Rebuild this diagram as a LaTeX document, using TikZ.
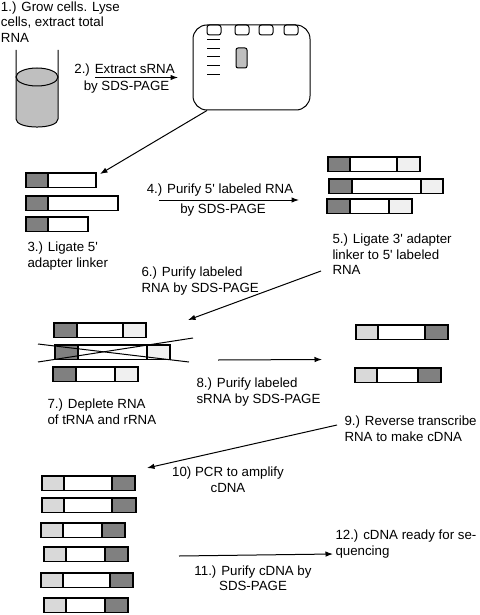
\documentclass[tikz,border=0pt]{standalone}
\usepackage{fontspec}
\setmainfont{Liberation Sans}[Ligatures=TeXOff]
\usepackage{xcolor}
\usepackage{tikz}
\usetikzlibrary{calc,arrows.meta}

\definecolor{segdark}{gray}{0.5}
\definecolor{segpale}{gray}{0.94}
\definecolor{seglight}{gray}{0.85}
\definecolor{liquid}{gray}{0.75}

\begin{document}
\begin{tikzpicture}[x=1pt,y=-1pt,line width=1pt,
    font=\fontsize{13.3}{15.5}\selectfont,
    steptext/.style={align=left,anchor=north west,inner sep=0pt},
    seg/.style={draw=black,line width=1.3pt},
    flow/.style={line width=1pt,-{Latex[length=7.5pt,width=5.5pt]}}]
\useasboundingbox (0,0) rectangle (479,615);

% beaker with total RNA
\fill[liquid] (16,77) -- (16,119) .. controls (16,129.7) and (58,129.7) .. (58,119) -- (58,77) -- cycle;
\filldraw[fill=liquid] (37,77) ellipse [x radius=21, y radius=9];
\draw (16,50) -- (16,119) .. controls (16,129.7) and (58,129.7) .. (58,119) -- (58,50);
\node[steptext] (grow) at (0.5,1) {1.) Grow cells. Lyse\\cells, extract total\\RNA};

% gel
\node[draw,rounded corners=14,minimum width=117,minimum height=85,inner sep=0] (gel) at (251.5,67.5) {};
\foreach \x in {207,235,259,284}
    \draw[rounded corners=2.5] (\x,25) rectangle (\x+14,35);
\foreach \y in {40,48.3,56.7,65.7,74.3}
    \draw (207,\y) -- (220,\y);
\filldraw[fill=liquid,rounded corners=2] (236,48) rectangle (247,68);

\coordinate (extA) at (95,77.5);
\coordinate (extB) at (178,77.5);
\draw[flow] (extA) -- (extB) node[midway,above,inner sep=1pt,xshift=-12]{2.) Extract sRNA} node[midway,below,inner sep=2.5pt,xshift=-10]{by SDS-PAGE};

\coordinate (ligIn) at (100,174);
\draw[flow] ($(gel.south)+(-44.5,0)$) -- (ligIn);

% 5' adapter ligated
\foreach \y/\e in {173/96,196/118,217/88}{
    \filldraw[seg,fill=segdark] (26,\y) rectangle (48,\y+14.5);
    \filldraw[seg,fill=white] (48,\y) rectangle (\e,\y+14.5);
}
\node[steptext] (ligfive) at (27,241.5) {3.) Ligate 5'\\adapter linker};

\coordinate (purA) at (159,200);
\coordinate (purB) at (299,200);
\draw[flow] (purA) -- (purB) node[midway,above,inner sep=3pt,xshift=-9]{4.) Purify 5' labeled RNA} node[midway,below,inner sep=3.5pt,xshift=-6]{by SDS-PAGE};

% 3' adapter ligated
\foreach \y/\a/\b/\c/\d in {157/328/350/397/420,179/329/352/421/443,199/327/350/389/412}{
    \filldraw[seg,fill=segdark] (\a,\y) rectangle (\b,\y+14.5);
    \filldraw[seg,fill=white] (\b,\y) rectangle (\c,\y+14.5);
    \filldraw[seg,fill=segpale] (\c,\y) rectangle (\d,\y+14.5);
}
\node[steptext] (ligthree) at (332,233.5) {5.) Ligate 3' adapter\\linker to 5' labeled\\RNA};
\node[steptext] (purlab) at (141,266.5) {6.) Purify labeled\\RNA by SDS-PAGE};

\coordinate (ligOut) at (321,271);
\coordinate (depIn) at (188,320);
\draw[flow] (ligOut) -- (depIn);

% depletion
\foreach \y/\a/\b/\c/\d in {323/54/77/123/146,345/55/78/147/170,367/53/76/115/138}{
    \filldraw[seg,fill=segdark] (\a,\y) rectangle (\b,\y+14.5);
    \filldraw[seg,fill=white] (\b,\y) rectangle (\c,\y+14.5);
    \filldraw[seg,fill=segpale] (\c,\y) rectangle (\d,\y+14.5);
}
\draw (38,344) -- (189,362);
\draw (38,362) -- (193,338);
\node[steptext] (deplete) at (47,398.5) {7.) Deplete RNA\\of tRNA and rRNA};

\coordinate (sepA) at (218,360);
\coordinate (sepB) at (322,359.5);
\draw[flow] (sepA) -- (sepB);
\node[steptext] (pursrna) at (196,377.5) {8.) Purify labeled\\sRNA by SDS-PAGE};

\foreach \y/\a/\b/\c/\d in {325/356/378/425/448,368/355/377/418/441}{
    \filldraw[seg,fill=seglight] (\a,\y) rectangle (\b,\y+14.5);
    \filldraw[seg,fill=white] (\b,\y) rectangle (\c,\y+14.5);
    \filldraw[seg,fill=segdark] (\c,\y) rectangle (\d,\y+14.5);
}
\node[steptext] (revtr) at (344,415.5) {9.) Reverse transcribe\\RNA to make cDNA};

\coordinate (rtOut) at (337,425);
\coordinate (pcrIn) at (147,468);
\draw[flow] (rtOut) -- (pcrIn);
\node[steptext,align=center,anchor=north] (pcr) at (228,466.5) {10) PCR to amplify\\cDNA};

% cDNA
\foreach \y/\a/\b/\c/\d in {476/42/64/112/135,498/42/64/112/136,523/41/63/102/125,547/44/66/105/128,573/41/63/110/133,598/44/66/105/128}{
    \filldraw[seg,fill=seglight] (\a,\y) rectangle (\b,\y+14.5);
    \filldraw[seg,fill=white] (\b,\y) rectangle (\c,\y+14.5);
    \filldraw[seg,fill=segdark] (\c,\y) rectangle (\d,\y+14.5);
}

\coordinate (cdA) at (179,556);
\coordinate (cdB) at (333,554);
\draw[flow] (cdA) -- (cdB) node[midway,below,align=center,inner sep=0pt,yshift=-10,xshift=-3]{11.) Purify cDNA by\\SDS-PAGE};
\node[steptext] (ready) at (335,529.5) {12.) cDNA ready for se-\\quencing};
\end{tikzpicture}
\end{document}
